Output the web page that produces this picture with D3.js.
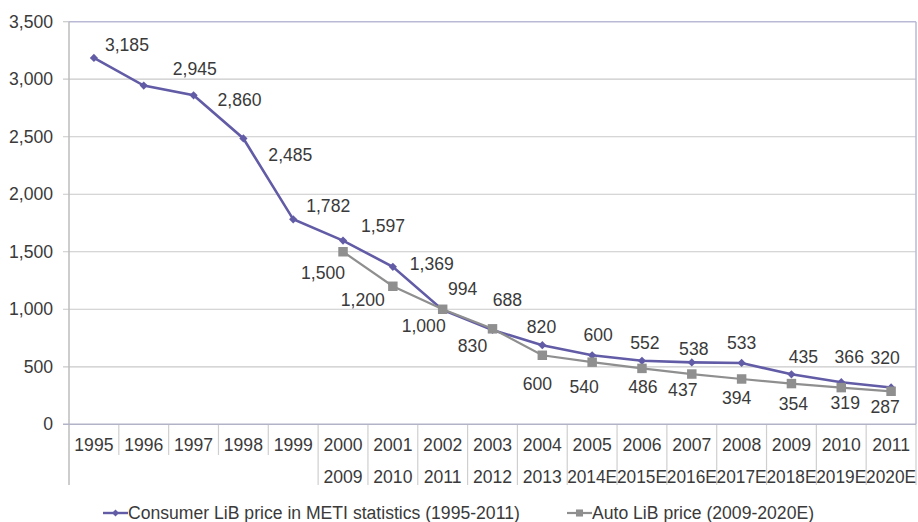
<!DOCTYPE html>
<html>
<head>
<meta charset="utf-8">
<script src="https://cdn.jsdelivr.net/npm/d3@7"></script>
<style>
  html, body { margin: 0; padding: 0; background: #fff; }
  svg { display: block; font-family: "Liberation Sans", Arial, Helvetica, sans-serif; }
</style>
</head>
<body>
<svg id="chart" width="918" height="522"></svg>
<script>
// Category rows: consumer years (top row) and auto years (second row)
const consumerYears = ["1995","1996","1997","1998","1999","2000","2001","2002","2003","2004","2005","2006","2007","2008","2009","2010","2011"];
const autoYears = ["","","","","","2009","2010","2011","2012","2013","2014E","2015E","2016E","2017E","2018E","2019E","2020E"];

// Price series (USD/kWh)
const consumerPrice = [3185, 2945, 2860, 2485, 1782, 1597, 1369, 994, 820, 688, 600, 552, 538, 533, 435, 366, 320];
const autoPrice = [null, null, null, null, null, 1500, 1200, 1000, 830, 600, 540, 486, 437, 394, 354, 319, 287];

const yTicks = [0, 500, 1000, 1500, 2000, 2500, 3000, 3500];

const seriesNames = ["Consumer LiB price in METI statistics (1995-2011)", "Auto LiB price (2009-2020E)"];

// Hand-placed nudges for the value labels, [dx, dy] from each point
const consumerLabelShift = [[33,-13],[51,-17],[46,5],[47,16],[35,-13],[40,-15],[39,-3],[20,-21],[49,-3],[-35,-45],[6,-20],[3,-18],[2,-14],[0,-20],[12,-17],[8,-25],[-6,-30]];
const autoLabelShift = [null,null,null,null,null,[-20,21],[-30,14],[-19,17],[-20,17],[-5,29],[-8,25],[1,18],[-9,16],[-5,19],[2,20],[4,15],[-6,16]];

const consumerColor = "#625ca6";
const autoColor = "#8f8f8f";
const textColor = "#3a3a3a";
const fontSize = 17.6;

const svg = d3.select("#chart");
const plotLeft = 69, plotRight = 916, plotTop = 21.7, plotBottom = 424.3;

const x = d3.scaleBand().domain(consumerYears).range([plotLeft, plotRight]).padding(0);
const y = d3.scaleLinear().domain([0, 3500]).range([plotBottom, plotTop]);
const fmt = d3.format(",");

// Horizontal gridlines with short outside ticks
svg.append("g").selectAll("line").data(yTicks.filter(t => t > 0 && t < 3500)).join("line")
  .attr("x1", plotLeft - 6).attr("x2", plotRight)
  .attr("y1", d => y(d)).attr("y2", d => y(d))
  .attr("stroke", "#c9c9c9").attr("stroke-width", 1.2);

// Plot frame (top and right)
svg.append("line").attr("x1", plotLeft).attr("x2", plotRight).attr("y1", y(3500)).attr("y2", y(3500))
  .attr("stroke", "#b9b9d6").attr("stroke-width", 1.5);
svg.append("line").attr("x1", plotLeft - 6).attr("x2", plotLeft).attr("y1", y(3500)).attr("y2", y(3500))
  .attr("stroke", "#c9c9c9").attr("stroke-width", 1.2);
svg.append("line").attr("x1", plotRight).attr("x2", plotRight).attr("y1", y(3500)).attr("y2", plotBottom)
  .attr("stroke", "#b9b9d6").attr("stroke-width", 1.5);

// Y tick labels
svg.append("g").selectAll("text").data(yTicks).join("text")
  .attr("x", 53).attr("y", d => y(d)).attr("dy", "0.35em")
  .attr("text-anchor", "end").attr("font-size", fontSize).attr("fill", textColor)
  .text(d => fmt(d));

// Category table below the zero line
const row1 = 445, row2 = 477, shortEnd = 455, longEnd = 485;
const bounds = consumerYears.map((c, i) => ({ xPos: x(c), long: i === 0 || autoYears[i] !== "" }));
bounds.push({ xPos: x(consumerYears[consumerYears.length - 1]) + x.bandwidth(), long: true });
svg.append("g").selectAll("line").data(bounds).join("line")
  .attr("x1", d => d.xPos).attr("x2", d => d.xPos)
  .attr("y1", (d, i) => i === 0 ? plotTop : plotBottom).attr("y2", d => d.long ? longEnd : shortEnd)
  .attr("stroke", (d, i) => i === 0 ? "#bdbdbd" : "#cfcfcf").attr("stroke-width", (d, i) => i === 0 ? 1.5 : 1.2);
svg.append("line").attr("x1", plotLeft - 6).attr("x2", plotRight).attr("y1", plotBottom).attr("y2", plotBottom)
  .attr("stroke", "#b3b3c8").attr("stroke-width", 1.5);

svg.append("g").selectAll("text").data(consumerYears).join("text")
  .attr("x", d => x(d) + x.bandwidth() / 2).attr("y", row1).attr("dy", "0.35em")
  .attr("text-anchor", "middle").attr("font-size", fontSize).attr("fill", textColor)
  .text(d => d);
svg.append("g").selectAll("text").data(consumerYears.map((c, i) => ({ c, a: autoYears[i] })).filter(d => d.a)).join("text")
  .attr("x", d => x(d.c) + x.bandwidth() / 2).attr("y", row2).attr("dy", "0.35em")
  .attr("text-anchor", "middle").attr("font-size", fontSize).attr("fill", textColor)
  .attr("textLength", d => d.a.length > 4 ? 50 : null).attr("lengthAdjust", "spacingAndGlyphs")
  .text(d => d.a);

// Series: consumer first, auto drawn over it
const px = i => x(consumerYears[i]) + x.bandwidth() / 2;
const autoPts = autoPrice.map((v, i) => ({ v, i })).filter(d => d.v != null);
const consPts = consumerPrice.map((v, i) => ({ v, i }));
const line = d3.line().x(d => px(d.i)).y(d => y(d.v));
const diamond = d3.symbol(d3.symbolSquare, 34);

svg.append("path").datum(consPts).attr("d", line)
  .attr("fill", "none").attr("stroke", consumerColor).attr("stroke-width", 2.6);
svg.append("g").selectAll("path").data(consPts).join("path")
  .attr("transform", d => `translate(${px(d.i)},${y(d.v)}) rotate(45)`)
  .attr("d", diamond).attr("fill", consumerColor);

svg.append("path").datum(autoPts).attr("d", line)
  .attr("fill", "none").attr("stroke", autoColor).attr("stroke-width", 2.2);
svg.append("g").selectAll("path").data(autoPts).join("path")
  .attr("transform", d => `translate(${px(d.i)},${y(d.v)})`)
  .attr("d", d3.symbol(d3.symbolSquare, 90)).attr("fill", autoColor);

// Value labels
svg.append("g").selectAll("text").data(consPts).join("text")
  .attr("x", d => px(d.i) + consumerLabelShift[d.i][0])
  .attr("y", d => y(d.v) + consumerLabelShift[d.i][1]).attr("dy", "0.35em")
  .attr("text-anchor", "middle").attr("font-size", fontSize).attr("fill", textColor)
  .text(d => fmt(d.v));
svg.append("g").selectAll("text").data(autoPts).join("text")
  .attr("x", d => px(d.i) + autoLabelShift[d.i][0])
  .attr("y", d => y(d.v) + autoLabelShift[d.i][1]).attr("dy", "0.35em")
  .attr("text-anchor", "middle").attr("font-size", fontSize).attr("fill", textColor)
  .text(d => fmt(d.v));

// Legend
const legY = 513;
const legend = [
  { name: seriesNames[0], x0: 103, color: consumerColor, sym: d3.symbolSquare, size: 24, rot: 45, w: 2.4 },
  { name: seriesNames[1], x0: 567, color: autoColor, sym: d3.symbolSquare, size: 50, rot: 0, w: 2.2 }
];
const lg = svg.append("g").selectAll("g").data(legend).join("g");
lg.append("line").attr("x1", d => d.x0).attr("x2", d => d.x0 + 25).attr("y1", legY).attr("y2", legY)
  .attr("stroke", d => d.color).attr("stroke-width", d => d.w);
lg.append("path").attr("transform", d => `translate(${d.x0 + 12.5},${legY}) rotate(${d.rot})`)
  .attr("d", d => d3.symbol(d.sym, d.size)()).attr("fill", d => d.color);
lg.append("text").attr("x", d => d.x0 + 25).attr("y", legY).attr("dy", "0.35em")
  .attr("font-size", fontSize).attr("fill", textColor).text(d => d.name);
</script>
</body>
</html>
